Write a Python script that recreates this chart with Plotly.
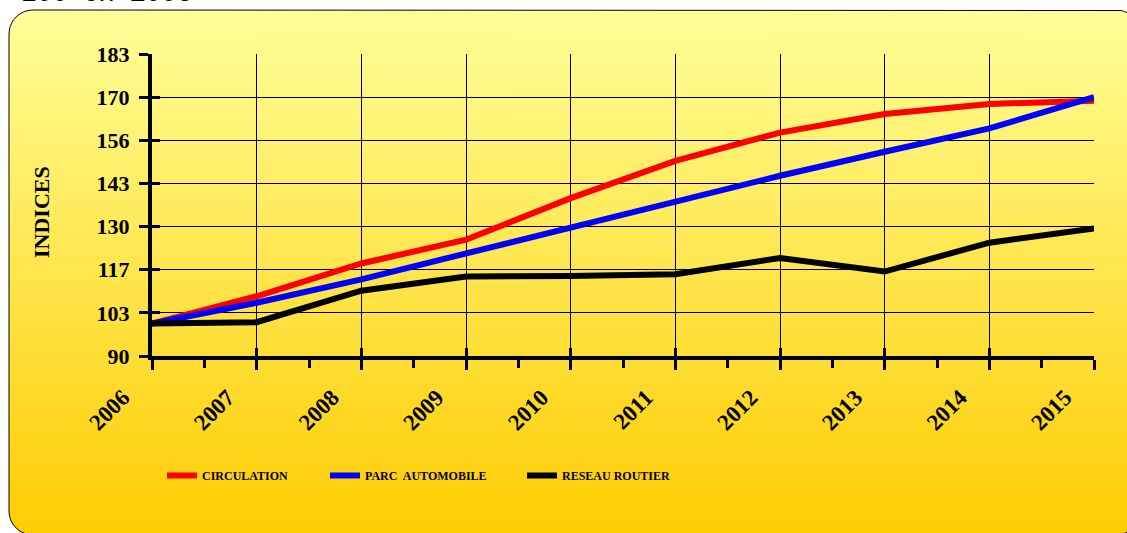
import numpy as np
import plotly.graph_objects as go

# indices, base 100 en 2006
years = [2006, 2007, 2008, 2009, 2010, 2011, 2012, 2013, 2014, 2015]
circulation = [100, 108.4, 118.5, 125.8, 138.6, 150.1, 158.8, 164.5, 167.6, 168.6]
parc_auto = [100, 106.4, 113.6, 121.5, 129.8, 137.5, 145.5, 152.9, 160.1, 169.7]
reseau = [100, 100.4, 110.1, 114.5, 114.6, 115.2, 120.2, 116.0, 124.9, 129.3]

y_min, y_max = 90, 183
y_ticks = [y_min + k * (y_max - y_min) / 7 for k in range(8)]
y_ticktext = [str(round(v)) for v in y_ticks]
x_minor = [y + 0.5 for y in years[:-1]]

W, H = 1127, 533
serif = 'Liberation Serif'

# rounded frame (pixel coords, origin bottom-left)
left, right, top, bottom, r = 9, 1140, 523, -2, 24
def arc(cx, cy, a0, a1):
    t = np.linspace(np.radians(a0), np.radians(a1), 16)
    return list(cx + r * np.cos(t)), list(cy + r * np.sin(t))
fx, fy = [], []
for cx, cy, a0, a1 in [(left + r, top - r, 180, 90), (right - r, top - r, 90, 0),
                       (right - r, bottom + r, 0, -90), (left + r, bottom + r, 270, 180)]:
    ax_, ay_ = arc(cx, cy, a0, a1)
    fx += ax_
    fy += ay_
fx.append(fx[0])
fy.append(fy[0])

fig = go.Figure()

fig.add_trace(go.Scatter(x=fx, y=fy, mode='lines', fill='toself',
                         line=dict(color='black', width=1),
                         fillgradient=dict(type='vertical',
                                           colorscale=[[0, '#FFCC00'], [1, '#FFFF99']]),
                         hoverinfo='skip', showlegend=False,
                         xaxis='x', yaxis='y'))

fig.add_trace(go.Scatter(x=years, y=circulation, mode='lines', name='CIRCULATION',
                         line=dict(color='#FF0000', width=6), legendwidth=118,
                         xaxis='x2', yaxis='y2'))
fig.add_trace(go.Scatter(x=years, y=parc_auto, mode='lines', name='PARC\u00a0 AUTOMOBILE',
                         line=dict(color='#0000FF', width=6), legendwidth=152,
                         xaxis='x2', yaxis='y2'))
fig.add_trace(go.Scatter(x=years, y=reseau, mode='lines', name='RESEAU ROUTIER',
                         line=dict(color='black', width=6), legendwidth=120,
                         xaxis='x2', yaxis='y2'))
# empty trace to hold the overlay axes (inner half of the ticks)
fig.add_trace(go.Scatter(x=[], y=[], showlegend=False, hoverinfo='skip',
                         xaxis='x3', yaxis='y3'))

x_dom = [152 / W, 1094 / W]
y_dom = [(H - 356) / H, (H - 54) / H]

fig.update_layout(
    width=W, height=H,
    margin=dict(l=0, r=0, t=0, b=0, autoexpand=False),
    paper_bgcolor='white', plot_bgcolor='rgba(0,0,0,0)',
    xaxis=dict(domain=[0, 1], range=[0, W], visible=False, fixedrange=True),
    yaxis=dict(domain=[0, 1], range=[0, H], visible=False, fixedrange=True),
    xaxis2=dict(domain=x_dom, anchor='y2', range=[years[0], years[-1]],
                tickmode='array', tickvals=years, ticktext=[str(y) for y in years],
                tickangle=-45, tickfont=dict(family=serif, size=23, color='black', weight='bold'),
                ticklabelshift=-29, ticklabelstandoff=5,
                showline=True, linecolor='black', linewidth=4,
                ticks='outside', ticklen=10, tickwidth=3, tickcolor='black',
                showgrid=True, gridcolor='black', gridwidth=1, zeroline=False,
                minor=dict(tickmode='array', tickvals=x_minor, ticks='outside',
                           ticklen=8, tickwidth=3, tickcolor='black', showgrid=False)),
    yaxis2=dict(domain=y_dom, anchor='x2', range=[y_min, y_max],
                tickmode='array', tickvals=y_ticks, ticktext=y_ticktext,
                tickfont=dict(family=serif, size=22, color='black', weight='bold'),
                showline=True, linecolor='black', linewidth=4,
                ticks='outside', ticklen=9, tickwidth=3, tickcolor='black',
                ticklabelstandoff=5,
                showgrid=True, gridcolor='black', gridwidth=1, zeroline=False),
    xaxis3=dict(overlaying='x2', anchor='y2', side='bottom', range=[years[0], years[-1]],
                tickmode='array', tickvals=years, showticklabels=False,
                ticks='inside', ticklen=8, tickwidth=3, tickcolor='black',
                showgrid=False, showline=False, zeroline=False),
    yaxis3=dict(overlaying='y2', anchor='x2', side='left', range=[y_min, y_max],
                tickmode='array', tickvals=y_ticks, showticklabels=False,
                ticks='inside', ticklen=8, tickwidth=3, tickcolor='black',
                showgrid=False, showline=False, zeroline=False),
    legend=dict(orientation='h', x=162 / W, xanchor='left', y=(H - 461) / H, yanchor='top',
                bgcolor='rgba(0,0,0,0)', itemwidth=30,
                font=dict(family=serif, size=12, color='black', weight='bold')),
    showlegend=True,
    annotations=[
        dict(text='INDICES', x=41 / W, y=(H - 212) / H, xref='paper', yref='paper',
             xanchor='center', yanchor='middle', textangle=-90, showarrow=False,
             font=dict(family=serif, size=22, color='black', weight='bold')),
        dict(text='100  en  2006', x=19 / W, y=1, xref='paper', yref='paper',
             xanchor='left', yanchor='bottom', yshift=-9, showarrow=False,
             font=dict(family='Liberation Sans', size=28, color='black')),
    ],
)

fig.write_html("out.html", config={'displayModeBar': False},
               post_script="document.body.style.margin = '0';")
